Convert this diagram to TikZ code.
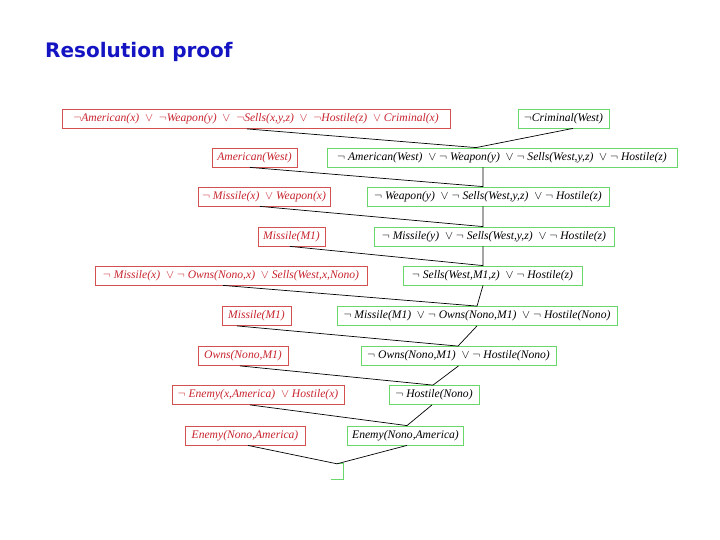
\documentclass[tikz,border=0pt]{standalone}
\usepackage{fontspec}
\setmainfont{Liberation Serif}
\newfontfamily\titlefont{DejaVu Sans}
\definecolor{titleblue}{RGB}{20,20,195}
\definecolor{textred}{RGB}{200,35,45}
\definecolor{boxred}{RGB}{210,80,80}
\definecolor{boxgreen}{RGB}{105,215,105}

\begin{document}
\begin{tikzpicture}[
      x=1pt, y=-1pt,
      clause/.style={draw, minimum height=19pt, inner sep=1pt, line width=0.8pt,
        font=\fontsize{11.6}{13}\selectfont\itshape},
      redclause/.style={clause, draw=boxred, text=textred},
      greenclause/.style={clause, draw=boxgreen, text=black},
      link/.style={black, line width=0.7pt}
    ]
      \useasboundingbox (0,0) rectangle (720,540);
      \node[anchor=base west, inner sep=0, text=titleblue,
        font=\titlefont\bfseries\fontsize{20}{24}\selectfont] (title) at (45,58) {Resolution proof};

      % left column: clauses from the knowledge base
      \node[redclause, minimum width=388pt] (r1) at (256,119)
        {$\neg$American(x) \ $\vee$ \ $\neg$Weapon(y) \ $\vee$ \ $\neg$Sells(x,y,z) \ $\vee$ \ $\neg$Hostile(z) \ $\vee$ Criminal(x)};
      \node[redclause, minimum width=85pt] (r2) at (254.5,157.5) {American(West)};
      \node[redclause, minimum width=132pt] (r3) at (264,196.5) {$\neg$ Missile(x) \ $\vee$ Weapon(x)};
      \node[redclause, minimum width=67pt] (r4) at (291.5,236.5) {Missile(M1)};
      \node[redclause, minimum width=272pt] (r5) at (231,275.5)
        {$\neg$ Missile(x) \ $\vee$ $\neg$ Owns(Nono,x) \ $\vee$ Sells(West,x,Nono)};
      \node[redclause, minimum width=69pt] (r6) at (256.5,316) {Missile(M1)};
      \node[redclause, minimum width=90pt] (r7) at (243,356) {Owns(Nono,M1)};
      \node[redclause, minimum width=172pt] (r8) at (258,395) {$\neg$ Enemy(x,America) \ $\vee$ Hostile(x)};
      \node[redclause, minimum width=120pt] (r9) at (245,435.5) {Enemy(Nono,America)};

      % right column: resolvents
      \node[greenclause, minimum width=91pt] (g1) at (563.5,118.5) {$\neg$Criminal(West)};
      \node[greenclause, minimum width=350pt] (g2) at (502,157.5)
        {$\neg$ American(West) \ $\vee$ $\neg$ Weapon(y) \ $\vee$ $\neg$ Sells(West,y,z) \ $\vee$ $\neg$ Hostile(z)};
      \node[greenclause, minimum width=242pt] (g3) at (488,196.5)
        {$\neg$ Weapon(y) \ $\vee$ $\neg$ Sells(West,y,z) \ $\vee$ $\neg$ Hostile(z)};
      \node[greenclause, minimum width=240pt] (g4) at (494,236.5)
        {$\neg$ Missile(y) \ $\vee$ $\neg$ Sells(West,y,z) \ $\vee$ $\neg$ Hostile(z)};
      \node[greenclause, minimum width=179pt] (g5) at (492.5,275.5)
        {$\neg$ Sells(West,M1,z) \ $\vee$ $\neg$ Hostile(z)};
      \node[greenclause, minimum width=280pt] (g6) at (477,316)
        {$\neg$ Missile(M1) \ $\vee$ $\neg$ Owns(Nono,M1) \ $\vee$ $\neg$ Hostile(Nono)};
      \node[greenclause, minimum width=195pt] (g7) at (458.5,356)
        {$\neg$ Owns(Nono,M1) \ $\vee$ $\neg$ Hostile(Nono)};
      \node[greenclause, minimum width=90pt] (g8) at (434,395) {$\neg$ Hostile(Nono)};
      \node[greenclause, minimum width=116pt] (g9) at (405.5,435.5) {Enemy(Nono,America)};
      \node[minimum width=12pt, minimum height=15pt, inner sep=0] (empty) at (337,471.5) {};
      \draw[boxgreen, line width=0.8pt] (empty.north) -- (empty.north east) -- (empty.south east) -- (empty.south west);

      % resolution steps
      \draw[link] ([xshift=-9pt]r1.south) -- ([xshift=-26pt]g2.north) -- ([xshift=9.5pt]g1.south);
      \draw[link] ([xshift=-4.5pt]r2.south) -- ([xshift=-5pt]g3.north) -- ([xshift=-19pt]g2.south);
      \draw[link] ([xshift=-4pt]r3.south) -- ([xshift=-11pt]g4.north) -- ([xshift=-5pt]g3.south);
      \draw[link] ([xshift=-1.5pt]r4.south) -- ([xshift=-9.5pt]g5.north) -- ([xshift=-11pt]g4.south);
      \draw[link] ([xshift=-8pt]r5.south) -- (g6.north) -- ([xshift=-9.5pt]g5.south);
      \draw[link] ([xshift=-19.5pt]r6.south) -- ([xshift=-0.5pt]g7.north) -- (g6.south);
      \draw[link] ([xshift=-3pt]r7.south) -- ([xshift=-1pt]g8.north) -- (g7.south);
      \draw[link] ([xshift=-8pt]r8.south) -- ([xshift=1.5pt]g9.north) -- ([xshift=-2pt]g8.south);
      \draw[link] ([xshift=3pt]r9.south) -- (empty.north) -- ([xshift=1.5pt]g9.south);
    \end{tikzpicture}
\end{document}
